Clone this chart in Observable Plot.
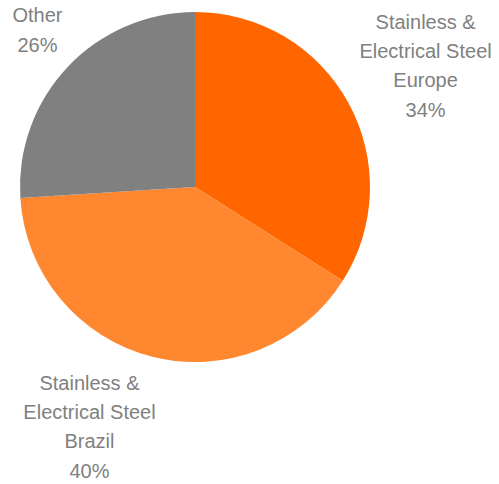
<!DOCTYPE html>
<html>
<head>
<meta charset="utf-8">
<script src="https://cdn.jsdelivr.net/npm/d3@7"></script>
<script src="https://cdn.jsdelivr.net/npm/@observablehq/plot@0.6"></script>
<style>
  html, body { margin: 0; padding: 0; background: #ffffff; }
  #chart svg { display: block; }
</style>
</head>
<body>
<div id="chart"></div>
<script>
// ---- data ----
const categories = ["Stainless &\nElectrical Steel\nEurope", "Stainless &\nElectrical Steel\nBrazil", "Other"];
const shares = [34, 40, 26];
const shareLabels = ["34%", "40%", "26%"];

// ---- style / layout ----
const sliceColors = ["#FF6600", "#FF8730", "#808080"];
const textColor = "#808080";
const labelRadius = [1.494, 1.483, 1.285];     // in pie radii
const labelAngleShift = [0.44, 9.71, 2.14];    // degrees, clockwise from slice mid-angle

const table = categories.map((c, i) => ({category: c, share: shares[i], label: shareLabels[i], color: sliceColors[i]}));

const arcs = d3.pie().sort(null).value(d => d.share).startAngle(0).endAngle(2 * Math.PI)(table);

const labels = arcs.map((a, i) => {
  const mid = (a.startAngle + a.endAngle) / 2 + labelAngleShift[i] * Math.PI / 180;
  return {
    text: a.data.category + "\n" + a.data.label,
    x: Math.sin(mid) * labelRadius[i],
    y: Math.cos(mid) * labelRadius[i]
  };
});

function pieMark(index, scales, values, dimensions) {
  let cx, cy, r;
  if (scales && scales.x && scales.y) {
    cx = scales.x(0); cy = scales.y(0);
    r = Math.abs(scales.x(1) - scales.x(0));
  } else {
    const {width, height, marginLeft, marginRight, marginTop, marginBottom} = dimensions;
    cx = (marginLeft + width - marginRight) / 2;
    cy = (marginTop + height - marginBottom) / 2;
    r = (width - marginLeft - marginRight) / 2;
  }
  const arc = d3.arc().innerRadius(0).outerRadius(r);
  const g = d3.create("svg:g").attr("transform", `translate(${cx},${cy})`);
  g.selectAll("path").data(arcs).join("path")
    .attr("d", arc)
    .attr("fill", d => d.data.color);
  return g.node();
}

const chart = Plot.plot({
  width: 499,
  height: 484,
  marginTop: 12,
  marginBottom: 122,
  marginLeft: 20,
  marginRight: 129,
  x: {domain: [-1, 1], axis: null},
  y: {domain: [-1, 1], axis: null},
  style: {background: "#ffffff"},
  marks: [
    pieMark,
    Plot.text(labels, {
      x: "x", y: "y", text: "text",
      fill: textColor,
      fontSize: 20,
      fontFamily: "Liberation Sans, Arial, Helvetica, sans-serif",
      lineHeight: 1.47,
      textAnchor: "middle",
      lineAnchor: "middle",
      clip: false
    })
  ]
});

document.getElementById("chart").appendChild(chart);
</script>
</body>
</html>
